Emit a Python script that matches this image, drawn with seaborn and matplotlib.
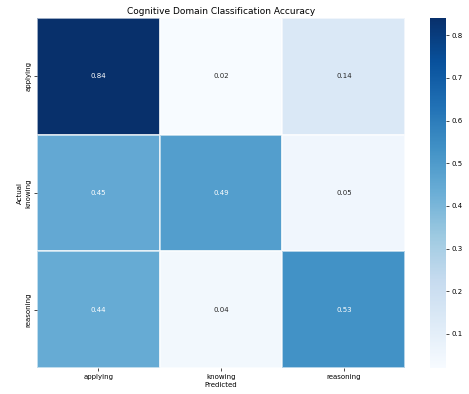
import numpy as np
import pandas as pd
import matplotlib
matplotlib.use("Agg")
import matplotlib.pyplot as plt
import seaborn as sns

classes = ["applying", "knowing", "reasoning"]
row_applying = [0.84, 0.02, 0.14]
row_knowing = [0.45, 0.49, 0.05]
row_reasoning = [0.44, 0.04, 0.53]
cbar_ticks = [0.1, 0.2, 0.3, 0.4, 0.5, 0.6, 0.7, 0.8]

cm = pd.DataFrame([row_applying, row_knowing, row_reasoning], index=classes, columns=classes)

fig = plt.figure(figsize=(4.69, 3.94), dpi=100)
ax = fig.add_axes([0.079, 0.066, 0.785, 0.888])
cax = fig.add_axes([0.917, 0.066, 0.034, 0.888])

sns.heatmap(cm, annot=True, fmt=".2f", cmap="Blues", ax=ax, cbar_ax=cax,
            linewidths=0.25, linecolor=(1, 1, 1, 0.6),
            annot_kws={"fontsize": 5})

ax.set_title("Cognitive Domain Classification Accuracy", fontsize=6.5, pad=3)
ax.set_xlabel("Predicted", fontsize=5, labelpad=2)
ax.set_ylabel("Actual", fontsize=5, labelpad=2)
ax.tick_params(axis="both", labelsize=5, length=2, width=0.5, pad=2)

cax.set_yticks(cbar_ticks)
cax.tick_params(labelsize=5, length=2, width=0.5, pad=2)
for s in cax.spines.values():
    s.set_visible(False)

fig.savefig("out.png", dpi=100)
